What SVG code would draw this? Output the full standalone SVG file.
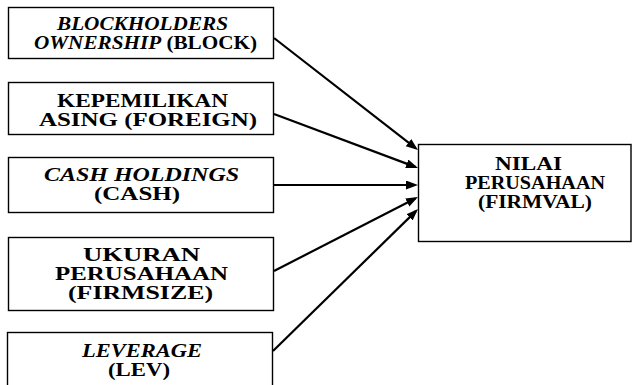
<svg xmlns="http://www.w3.org/2000/svg" width="632" height="385" viewBox="0 0 632 385">
<style>
.box{fill:#fff;stroke:#000;stroke-width:1.4}
.t{font-family:"Liberation Serif","Times New Roman",serif;font-weight:bold;font-size:18px;fill:#000}
.i{font-style:italic}
.c{stroke:#000;stroke-width:2.2;fill:none;marker-end:url(#ah)}
</style>
<defs>
<marker id="ah" markerUnits="userSpaceOnUse" markerWidth="14" markerHeight="10" refX="9" refY="4.5" orient="auto">
<path d="M0,0 L12,4.5 L0,9 z" fill="#000"/>
</marker>
</defs>
<rect width="632" height="385" fill="#fff"/>
<g id="block">
<rect class="box" x="8.5" y="7.5" width="265" height="51"/>
<text class="t i" x="57" y="30" textLength="171" lengthAdjust="spacingAndGlyphs">BLOCKHOLDERS</text>
<text class="t" x="34" y="49" textLength="223" lengthAdjust="spacingAndGlyphs"><tspan class="i">OWNERSHIP</tspan> (BLOCK)</text>
</g>
<g id="foreign">
<rect class="box" x="8.5" y="82.5" width="265" height="52"/>
<text class="t" x="57" y="107" textLength="171" lengthAdjust="spacingAndGlyphs">KEPEMILIKAN</text>
<text class="t" x="39" y="126" textLength="218" lengthAdjust="spacingAndGlyphs">ASING (FOREIGN)</text>
</g>
<g id="cash">
<rect class="box" x="8.5" y="157.5" width="265" height="55"/>
<text class="t i" x="44" y="181" textLength="195" lengthAdjust="spacingAndGlyphs">CASH HOLDINGS</text>
<text class="t" x="94" y="200" textLength="86" lengthAdjust="spacingAndGlyphs">(CASH)</text>
</g>
<g id="firmsize">
<rect class="box" x="8.5" y="237.5" width="265" height="73"/>
<text class="t" x="83" y="261" textLength="117" lengthAdjust="spacingAndGlyphs">UKURAN</text>
<text class="t" x="55" y="280" textLength="173" lengthAdjust="spacingAndGlyphs">PERUSAHAAN</text>
<text class="t" x="68" y="299" textLength="145" lengthAdjust="spacingAndGlyphs">(FIRMSIZE)</text>
</g>
<g id="lev">
<rect class="box" x="7.5" y="332.5" width="265" height="70"/>
<text class="t i" x="82" y="357" textLength="120" lengthAdjust="spacingAndGlyphs">LEVERAGE</text>
<text class="t" x="108" y="376" textLength="62" lengthAdjust="spacingAndGlyphs">(LEV)</text>
</g>
<g id="firmval">
<rect class="box" x="418.5" y="144.5" width="212.5" height="97"/>
<text class="t" x="495" y="170" textLength="67" lengthAdjust="spacingAndGlyphs">NILAI</text>
<text class="t" x="465" y="189" textLength="140" lengthAdjust="spacingAndGlyphs">PERUSAHAAN</text>
<text class="t" x="478" y="208" textLength="114" lengthAdjust="spacingAndGlyphs">(FIRMVAL)</text>
</g>
<g id="connectors">
<line class="c" x1="274" y1="38" x2="415.6" y2="148.2"/>
<line class="c" x1="274" y1="114" x2="415.2" y2="166.9"/>
<line class="c" x1="274" y1="185" x2="415" y2="185"/>
<line class="c" x1="274" y1="271" x2="415.3" y2="198.4"/>
<line class="c" x1="273" y1="351" x2="415.9" y2="211.1"/>
</g>
</svg>
